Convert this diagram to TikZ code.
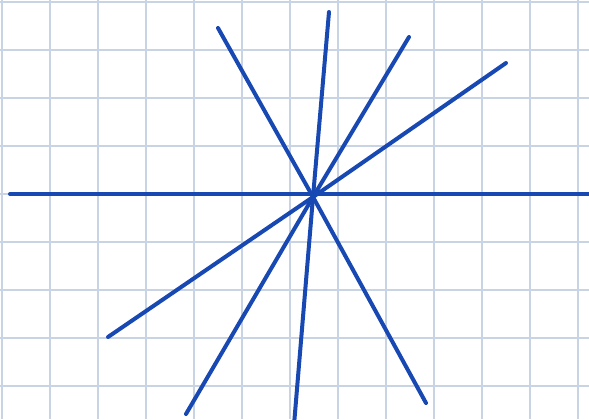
\documentclass[tikz,border=0pt]{standalone}
\usepackage{tikz}
\usetikzlibrary{positioning,calc}
\definecolor{raycolor}{RGB}{24,72,178}
\definecolor{gridcolor}{RGB}{200,212,228}

\begin{document}
\begin{tikzpicture}[x=0.5pt, y=-0.5pt,
    gridline/.style={gridcolor, line width=1pt},
    ray/.style={raycolor, line width=2pt, line cap=round}]
    \useasboundingbox (0,0) rectangle (589,419);
    % Grid
    \foreach \gx in {2,50,...,578}
      \draw[gridline] (\gx,0) -- (\gx,419);
    \foreach \gy in {2,50,...,386}
      \draw[gridline] (0,\gy) -- (589,\gy);
    % Points
    \coordinate (O) at (313,197);
    \coordinate (L) at (10,194);
    \coordinate (R) at (595,194);
    \coordinate (A1) at (218,28);
    \coordinate (A2) at (426,403);
    \coordinate (B1) at (329,12);
    \coordinate (B2) at (294,425);
    \coordinate (C1) at (409,37);
    \coordinate (C2) at (186,414);
    \coordinate (D1) at (506,63);
    \coordinate (D2) at (108,337);
    % Lines
    \draw[ray] (L) -- (R);
    \draw[ray] (A1) -- (O) -- (A2);
    \draw[ray] (B1) -- (O) -- (B2);
    \draw[ray] (C1) -- (O) -- (C2);
    \draw[ray] (D1) -- (O) -- (D2);
\end{tikzpicture}
\end{document}
